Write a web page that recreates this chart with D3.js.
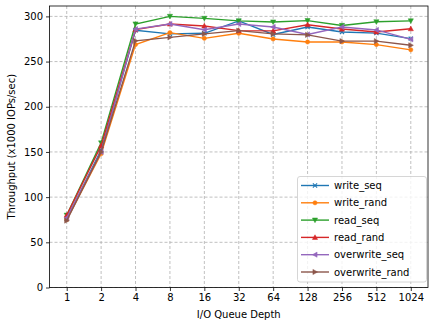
<!DOCTYPE html>
<html>
<head>
<meta charset="utf-8">
<script src="https://cdn.jsdelivr.net/npm/d3@7"></script>
<style>
  body { margin: 0; background: #fff; }
  text { font-family: "DejaVu Sans", sans-serif; fill: #000; }
</style>
</head>
<body>
<div id="chart"></div>
<script>
// 队列深度
var depths = ["1", "2", "4", "8", "16", "32", "64", "128", "256", "512", "1024"];
var seriesNames = ["write_seq", "write_rand", "read_seq", "read_rand", "overwrite_seq", "overwrite_rand"];
var writeSeq      = [76, 152, 284.6, 280.6, 281.3, 295, 280, 288.3, 282.8, 281.5, 275.4];
var writeRand     = [75, 148, 268.8, 282, 275.7, 281.3, 275, 271.7, 271.7, 268.8, 263];
var readSeq       = [80, 160, 291.6, 300, 297.8, 295, 293.8, 295.3, 290, 294, 295];
var readRand      = [80, 157, 285.3, 291.6, 289.4, 284.2, 284, 290.8, 286, 282.8, 286.4];
var overwriteSeq  = [77, 150, 286, 291.6, 285.3, 291.6, 288.3, 280, 288.3, 285, 274.6];
var overwriteRand = [74, 150, 273, 276.8, 280.6, 284.2, 280.6, 279.6, 272.6, 272.6, 268];
var yTicks = [0, 50, 100, 150, 200, 250, 300];

var colors = ["#1f77b4", "#ff7f0e", "#2ca02c", "#d62728", "#9467bd", "#8c564b"];
var markers = ["x", "circle", "tdown", "tup", "tleft", "tright"];
var allValues = [writeSeq, writeRand, readSeq, readRand, overwriteSeq, overwriteRand];

var w = 436, h = 327;
var margin = {left: 49.5, right: 8, top: 6, bottom: 40};
var fs = "10px";

var svg = d3.select("#chart").append("svg").attr("width", w).attr("height", h);

var x = d3.scalePoint().domain(depths).range([margin.left, w - margin.right]).padding(0.5);
var y = d3.scaleLinear().domain([0, 311.5]).range([h - margin.bottom + 0.5, margin.top]);

// 网格
var grid = svg.append("g");
grid.selectAll(".gx").data(depths).enter().append("line")
    .attr("x1", d => x(d)).attr("x2", d => x(d))
    .attr("y1", margin.top).attr("y2", y(0))
    .attr("stroke", "#b0b0b0").attr("stroke-width", 0.8).attr("stroke-dasharray", "3,2");
grid.selectAll(".gy").data(yTicks).enter().append("line")
    .attr("x1", margin.left).attr("x2", w - margin.right)
    .attr("y1", d => y(d)).attr("y2", d => y(d))
    .attr("stroke", "#b0b0b0").attr("stroke-width", 0.8).attr("stroke-dasharray", "3,2");

// 坐标轴
var xAxis = svg.append("g").attr("transform", "translate(0," + y(0) + ")")
    .call(d3.axisBottom(x).tickSize(3.5).tickPadding(3));
var yAxis = svg.append("g").attr("transform", "translate(" + margin.left + ",0)")
    .call(d3.axisLeft(y).tickValues(yTicks).tickSize(3.5).tickPadding(3));
[xAxis, yAxis].forEach(function(a) {
    a.select(".domain").remove();
    a.selectAll("text").style("font-size", fs).style("font-family", "DejaVu Sans");
    a.selectAll("line").attr("stroke", "#000").attr("stroke-width", 0.8);
});

svg.append("rect")
    .attr("x", margin.left).attr("y", margin.top)
    .attr("width", w - margin.right - margin.left)
    .attr("height", y(0) - margin.top)
    .attr("fill", "none").attr("stroke", "#000").attr("stroke-width", 0.8);

function markerPath(type, s) {
    if (type == "circle") return d3.symbol().type(d3.symbolCircle).size(s * s * 0.8)();
    if (type == "x") return "M" + (-s/2) + "," + (-s/2) + "L" + (s/2) + "," + (s/2) + "M" + (-s/2) + "," + (s/2) + "L" + (s/2) + "," + (-s/2);
    var r = s * 0.62;
    var pts;
    if (type == "tup") pts = [[0, -r], [r, r * 0.8], [-r, r * 0.8]];
    if (type == "tdown") pts = [[0, r], [r, -r * 0.8], [-r, -r * 0.8]];
    if (type == "tleft") pts = [[-r, 0], [r * 0.8, -r], [r * 0.8, r]];
    if (type == "tright") pts = [[r, 0], [-r * 0.8, -r], [-r * 0.8, r]];
    return "M" + pts.map(p => p.join(",")).join("L") + "Z";
}

function drawMarker(g, type, color, cx, cy) {
    var p = g.append("path").attr("d", markerPath(type, 4.2))
        .attr("transform", "translate(" + cx + "," + cy + ")");
    if (type == "x") p.attr("fill", "none").attr("stroke", color).attr("stroke-width", 1.1);
    else p.attr("fill", color).attr("stroke", color).attr("stroke-width", 0.5);
}

var line = d3.line().x((d, i) => x(depths[i])).y(d => y(d));

seriesNames.forEach(function(name, k) {
    var g = svg.append("g");
    g.append("path").datum(allValues[k]).attr("d", line)
        .attr("fill", "none").attr("stroke", colors[k]).attr("stroke-width", 1.4);
    allValues[k].forEach(function(v, i) {
        drawMarker(g, markers[k], colors[k], x(depths[i]), y(v));
    });
});

// 图例
var lg = svg.append("g");
lg.append("rect").attr("x", 297.5).attr("y", 176.5).attr("width", 129).attr("height", 105.5)
    .attr("rx", 2.5).attr("fill", "#fff").attr("fill-opacity", 0.8)
    .attr("stroke", "#cccccc").attr("stroke-width", 0.8);
seriesNames.forEach(function(name, k) {
    var ly = 185.5 + k * 17.3;
    lg.append("line").attr("x1", 301).attr("x2", 329).attr("y1", ly).attr("y2", ly)
        .attr("stroke", colors[k]).attr("stroke-width", 1.4);
    drawMarker(lg, markers[k], colors[k], 315, ly);
    lg.append("text").attr("x", 334).attr("y", ly).attr("dy", "0.35em")
        .style("font-size", fs).text(name);
});

svg.append("text").attr("x", (margin.left + w - margin.right) / 2).attr("y", 318)
    .attr("text-anchor", "middle").style("font-size", fs).text("I/O Queue Depth");
svg.append("text").attr("transform", "translate(14.5," + ((margin.top + y(0)) / 2) + ") rotate(-90)")
    .attr("text-anchor", "middle").style("font-size", fs).text("Throughput (x1000 IOPs/sec)");
</script>
</body>
</html>
